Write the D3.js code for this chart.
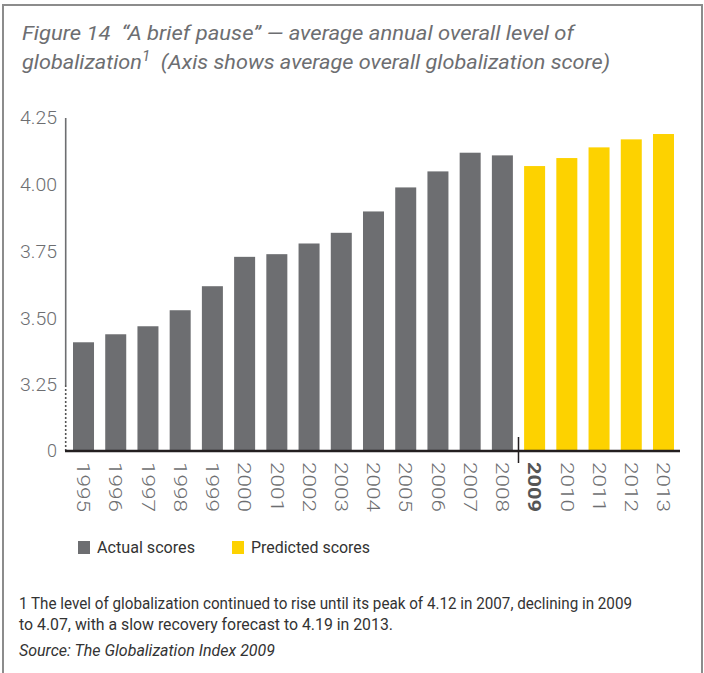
<!DOCTYPE html>
<html><head><meta charset="utf-8">
<script src="https://cdn.jsdelivr.net/npm/d3@7"></script>
<style>
html,body{margin:0;padding:0;background:#fff;}
svg{display:block;}
text{font-family:"Liberation Sans Narrow","Roboto","Open Sans",sans-serif;}
</style></head>
<body>
<svg id="chart" width="704" height="673"></svg>
<script>
// ---- data ----
const actualYears = ["1995","1996","1997","1998","1999","2000","2001","2002","2003","2004","2005","2006","2007","2008"];
const actualScores = [3.41,3.44,3.47,3.53,3.62,3.73,3.74,3.78,3.82,3.90,3.99,4.05,4.12,4.11];
const predictedYears = ["2009","2010","2011","2012","2013"];
const predictedScores = [4.07,4.10,4.14,4.17,4.19];
const yTickValues = [0,3.25,3.50,3.75,4.00,4.25];
const yTickLabels = ["0","3.25","3.50","3.75","4.00","4.25"];
const legendLabels = ["Actual scores","Predicted scores"];
const titleLines = ["Figure 14  \u201CA brief pause\u201D \u2014 average annual overall level of",
                    "globalization", "1", "  (Axis shows average overall globalization score)"];
const footnoteLines = ["1 The level of globalization continued to rise until its peak of 4.12 in 2007, declining in 2009",
                       "to 4.07, with a slow recovery forecast to 4.19 in 2013."];
const sourceText = "Source: The Globalization Index 2009";

const GRAY = "#6d6e71", YELLOW = "#fdd200", DARK = "#231f20";

const rows = actualYears.map((y,i)=>({year:y, value:actualScores[i], type:"actual"}))
  .concat(predictedYears.map((y,i)=>({year:y, value:predictedScores[i], type:"predicted"})));

const svg = d3.select("#chart");

// frame
svg.append("path").attr("d","M3,673 V5 H702 V673").attr("fill","none")
  .attr("stroke","#8c8c8c").attr("stroke-width",2);

// title
const t1 = svg.append("text").attr("x",22).attr("y",40).attr("fill",GRAY)
  .attr("font-size",20).attr("font-style","italic").style("white-space","pre").text(titleLines[0])
  .attr("textLength",552).attr("lengthAdjust","spacingAndGlyphs");
const t2 = svg.append("text").attr("x",22).attr("y",69).attr("fill",GRAY)
  .attr("font-size",20).attr("font-style","italic").style("white-space","pre")
  .attr("textLength",588).attr("lengthAdjust","spacingAndGlyphs");
t2.append("tspan").text(titleLines[1]);
t2.append("tspan").attr("dy",-8).attr("font-size",14).text(titleLines[2]);
t2.append("tspan").attr("dy",8).text(titleLines[3]);

// scales
const x = d3.scaleBand().domain(rows.map(d=>d.year)).range([67.4,679.6])
  .paddingInner(0.348).paddingOuter(0.174);
const y = d3.scaleLinear().domain([0,3.25,4.25]).range([451,385,118]);

// bars
svg.append("g").selectAll("rect").data(rows).join("rect")
  .attr("x",d=>x(d.year)).attr("width",x.bandwidth())
  .attr("y",d=>y(d.value)).attr("height",d=>y(0)-y(d.value))
  .attr("fill",d=>d.type==="actual"?GRAY:YELLOW);

// y axis
const yAxis = svg.append("g").attr("transform","translate(57,0)")
  .call(d3.axisLeft(y).tickValues(yTickValues).tickSize(0).tickPadding(0)
    .tickFormat((d,i)=>yTickLabels[i]));
yAxis.select(".domain").remove();
yAxis.selectAll("text").attr("font-size",18).attr("fill",GRAY).attr("font-weight",300)
  .style("font-family","'Roboto',sans-serif")
  .each(function(d,i){ if(yTickLabels[i].length>1) d3.select(this).attr("textLength",37).attr("lengthAdjust","spacingAndGlyphs"); });

svg.append("line").attr("x1",65.7).attr("x2",65.7).attr("y1",y(4.25)).attr("y2",y(3.25))
  .attr("stroke",GRAY).attr("stroke-width",1.6);
svg.append("line").attr("x1",65.7).attr("x2",65.7).attr("y1",y(3.25)).attr("y2",y(0))
  .attr("stroke","#555").attr("stroke-width",1.6).attr("stroke-dasharray","2,2");

// baseline
svg.append("line").attr("x1",65).attr("x2",680).attr("y1",y(0)).attr("y2",y(0))
  .attr("stroke",DARK).attr("stroke-width",2.5);

// separator between actual and predicted
const sepX = (x("2008")+x.bandwidth()+x("2009"))/2;
svg.append("line").attr("x1",sepX).attr("x2",sepX).attr("y1",437).attr("y2",463)
  .attr("stroke",DARK).attr("stroke-width",1.5);

// x axis
const xAxis = svg.append("g").attr("transform",`translate(0,${y(0)})`)
  .call(d3.axisBottom(x).tickSize(0).tickPadding(0));
xAxis.select(".domain").remove();
xAxis.selectAll("text")
  .attr("transform","rotate(90)")
  .attr("x",11).attr("y",0).attr("dy","0.35em")
  .attr("text-anchor","start")
  .attr("font-size",18)
  .attr("textLength",50).attr("lengthAdjust","spacingAndGlyphs")
  .attr("fill",d=>d==="2009"?"#555":GRAY)
  .attr("font-weight",d=>d==="2009"?"bold":300)
  .style("font-family","'Roboto',sans-serif");

// legend
const legend = svg.append("g");
const legX = [78,232], legW=[98,119];
legendLabels.forEach((lab,i)=>{
  legend.append("rect").attr("x",legX[i]).attr("y",541).attr("width",12).attr("height",13)
    .attr("fill",i===0?GRAY:YELLOW);
  legend.append("text").attr("x",legX[i]+19).attr("y",553).attr("font-size",16)
    .attr("fill","#333").text(lab).attr("textLength",legW[i]).attr("lengthAdjust","spacingAndGlyphs");
});

// footnote
const fnW = [613,374];
footnoteLines.forEach((l,i)=>{
  svg.append("text").attr("x",19).attr("y",609+i*21).attr("font-size",16)
    .attr("fill","#333").text(l).attr("textLength",fnW[i]).attr("lengthAdjust","spacingAndGlyphs");
});
svg.append("text").attr("x",19).attr("y",656).attr("font-size",16).attr("font-style","italic")
  .attr("fill","#333").text(sourceText).attr("textLength",256).attr("lengthAdjust","spacingAndGlyphs");
</script>
</body></html>
